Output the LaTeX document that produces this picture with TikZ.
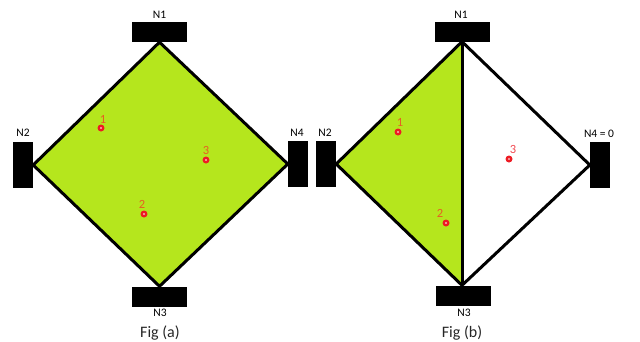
\documentclass[tikz,border=0pt]{standalone}
\usepackage{fontspec}
\setmainfont{Carlito}
\definecolor{lime}{RGB}{181,230,29}
\definecolor{ptred}{RGB}{237,28,36}
\definecolor{numcol}{RGB}{230,95,35}
\begin{document}
\begin{tikzpicture}[x=1pt,y=-1pt,
  hbar/.style={fill=black,draw=none,minimum width=55pt,minimum height=20pt,inner sep=0pt},
  vbar/.style={fill=black,draw=none,minimum width=20pt,minimum height=46pt,inner sep=0pt},
  edgeline/.style={draw=black,line width=3pt,line join=miter},
  lbl/.style={font=\fontsize{11.5}{13}\selectfont,text=black,inner sep=0pt},
  figcap/.style={font=\fontsize{16}{18}\selectfont,text=black!85,inner sep=0pt},
  ptmark/.style={circle,fill=ptred,minimum size=7pt,inner sep=0pt},
  num/.style={font=\fontsize{12.5}{14}\selectfont,text=numcol,inner sep=0pt}]
\useasboundingbox (0,0) rectangle (640,341);
% ---------- Fig (a)
\node[hbar] (a1) at (159.5,32) {};
\node[vbar] (a2) at (23,165) {};
\node[vbar] (a4) at (298,164) {};
\node[hbar] (a3) at (159.5,296.5) {};
\filldraw[edgeline,fill=lime] (a1.south) -- (a2.east) -- (a3.north) -- (a4.west) -- cycle;
\node[lbl] (la1) at (159.5,15) {N1};
\node[lbl] (la2) at (23,133) {N2};
\node[lbl] (la4) at (297,133) {N4};
\node[lbl] (la3) at (160,313) {N3};
\node[figcap] (fa) at (160,333) {Fig (a)};
\node[ptmark] (pa1) at (101,128) {};
\node[ptmark] (pa2) at (144,214) {};
\node[ptmark] (pa3) at (206,160) {};
\foreach \p in {pa1,pa2,pa3} \fill[white] (\p) circle (0.8pt);
\node[num] (na1) at (103,119) {1};
\node[num] (na2) at (142,204) {2};
\node[num] (na3) at (206,150) {3};
% ---------- Fig (b)
\node[hbar] (b1) at (462,31.5) {};
\node[vbar] (b2) at (326,164) {};
\node[vbar] (b4) at (600,165) {};
\node[hbar] (b3) at (463,295.5) {};
\coordinate (bt) at (b1.south);
\coordinate (bb) at (b3.north -| b1.south);
\fill[lime] (bt) -- (b2.east) -- (bb) -- cycle;
\draw[edgeline] (bt) -- (b2.east) -- (bb) -- (b4.west) -- cycle;
\draw[edgeline] (bt) -- (bb);
\node[lbl] (lb1) at (461,15) {N1};
\node[lbl] (lb2) at (325,133) {N2};
\node[lbl] (lb4) at (599,134) {N4 = 0};
\node[lbl] (lb3) at (464,313) {N3};
\node[figcap] (fb) at (462,333) {Fig (b)};
\node[ptmark] (pb1) at (398,132) {};
\node[ptmark] (pb2) at (446,223) {};
\node[ptmark] (pb3) at (509,159) {};
\foreach \p in {pb1,pb2,pb3} \fill[white] (\p) circle (0.8pt);
\node[num] (nb1) at (400,122) {1};
\node[num] (nb2) at (440,213) {2};
\node[num,text=ptred!80] (nb3) at (513,149) {3};
\end{tikzpicture}
\end{document}
